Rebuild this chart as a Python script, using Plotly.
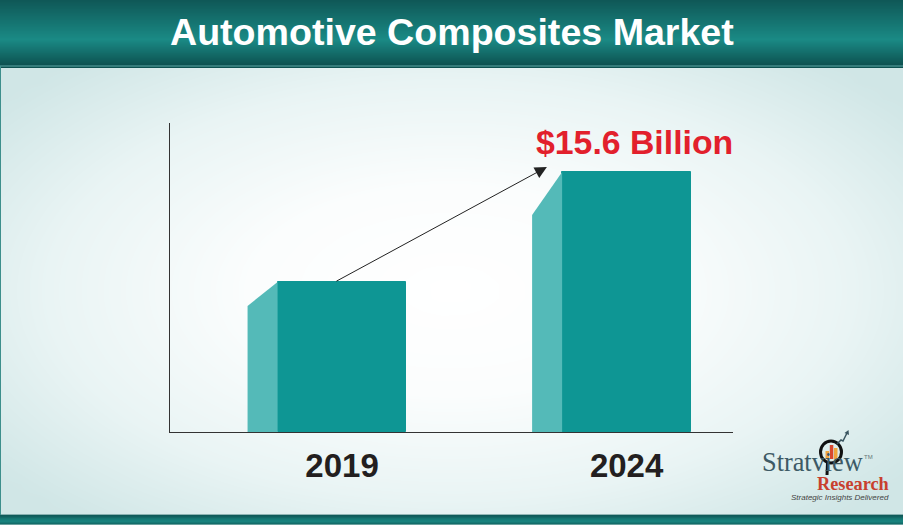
import numpy as np
from plotly import graph_objects as go

W, H = 903, 525

years = ['2019', '2024']
market_value = [9.0, 15.6]
side_drop = [1.44, 2.58]

TITLE = 'Automotive Composites Market'
VALUE_LABEL = '$15.6 Billion'

BAR_WIDTH = 0.453
SIDE_DEPTH = 0.1055
TEAL = '#0e9694'
TEAL_SIDE = '#54bab8'
SANS = 'Liberation Sans'
SERIF = 'Liberation Serif'

positions = list(range(len(years)))

fig = go.Figure()

# backdrop lives on x/y, which use page pixels
gx = np.linspace(0, W, 46)
gy = np.linspace(66, 515, 30)
xx, yy = np.meshgrid(gx, gy)
glow = np.clip(np.hypot((xx - 450) / 500, (yy - 290) / 260), 0, 1.15)
fig.add_trace(go.Heatmap(
    x=gx, y=gy, z=glow, zmin=0, zmax=1.15, zsmooth='best', showscale=False,
    hoverinfo='skip',
    colorscale=[[0, '#ffffff'], [0.35, '#fbfdfd'], [0.7, '#e9f4f4'], [1, '#d0e6e6']]))

band_scale = [[0, '#0f5857'], [0.6, '#1a8a85'], [1, '#0d5150']]
for top, bottom in [(0, 65), (515, 525)]:
    rows = np.linspace(top, bottom, 14)
    fig.add_trace(go.Heatmap(
        x=[0, W], y=rows, z=[[v, v] for v in np.linspace(0, 1, 14)],
        zmin=0, zmax=1, zsmooth='best', showscale=False, hoverinfo='skip',
        colorscale=band_scale))

# side faces of the bars
for pos, value, drop in zip(positions, market_value, side_drop):
    left = pos - BAR_WIDTH / 2
    fig.add_trace(go.Scatter(
        x=[left - SIDE_DEPTH, left, left, left - SIDE_DEPTH],
        y=[value - drop, value, 0, 0],
        xaxis='x2', yaxis='y2', mode='lines', line=dict(width=0),
        fill='toself', fillcolor=TEAL_SIDE, hoverinfo='skip'))

# the outline keeps the backdrop from showing through at the side face seam
fig.add_trace(go.Bar(
    x=positions, y=market_value, width=BAR_WIDTH, xaxis='x2', yaxis='y2',
    marker=dict(color=TEAL, line=dict(width=1, color=TEAL))))

annotations = [
    dict(x=451.5, y=32, xref='x', yref='y', text=f'<b>{TITLE}</b>', showarrow=False,
         font=dict(family=SANS, size=37.6, color='white')),
    dict(x=634.5, y=142, xref='x', yref='y', text=f'<b>{VALUE_LABEL}</b>', showarrow=False,
         font=dict(family=SANS, size=33.8, color='#e2202c')),
    # growth arrow, from the 2019 bar top towards the 2024 value
    dict(x=0.72, y=15.9, xref='x2', yref='y2', ax=-0.025, ay=market_value[0],
         axref='x2', ayref='y2', text='', showarrow=True, arrowhead=2,
         arrowsize=2.4, arrowwidth=1, arrowcolor='#222222'),
    # logo text
    dict(x=760, y=462, xref='x', yref='y', text='Stratview', showarrow=False, xanchor='left',
         font=dict(family=SERIF, size=26.3, color='#3d5a66')),
    dict(x=862, y=457, xref='x', yref='y', text='TM', showarrow=False, xanchor='left',
         font=dict(family=SANS, size=6, color='#667777')),
    dict(x=891, y=484, xref='x', yref='y', text='<b>Research</b>', showarrow=False, xanchor='right',
         font=dict(family=SERIF, size=18.3, color='#c8402e')),
    dict(x=891, y=497, xref='x', yref='y', text='<i>Strategic Insights Delivered</i>',
         showarrow=False, xanchor='right',
         font=dict(family=SANS, size=8, color='#444444')),
]

# thin frame of the panel and the magnifier in the logo
shapes = [
    dict(type='line', x0=0, x1=W, y0=66, y1=66, xref='x', yref='y',
         line=dict(color='#5fa9a6', width=1)),
    dict(type='line', x0=0.5, x1=0.5, y0=66, y1=515, xref='x', yref='y',
         line=dict(color='#3d8f8c', width=1)),
    dict(type='rect', x0=825.5, x1=829, y0=451, y1=459, xref='x', yref='y',
         fillcolor='#f0a63c', line=dict(width=0)),
    dict(type='rect', x0=829.8, x1=833.3, y0=445, y1=459, xref='x', yref='y',
         fillcolor='#d9482f', line=dict(width=0)),
    dict(type='rect', x0=834, x1=837.5, y0=448, y1=459, xref='x', yref='y',
         fillcolor='#f0a63c', line=dict(width=0)),
    dict(type='circle', x0=820.5, x1=841.5, y0=441, y1=463, xref='x', yref='y',
         line=dict(color='#111111', width=3)),
    dict(type='line', x0=827.5, x1=827, y0=463, y1=475, xref='x', yref='y',
         line=dict(color='#111111', width=3)),
    dict(type='path', path='M 837 444 L 841 440 L 843 441 L 847 433', xref='x', yref='y',
         line=dict(color='#3a5560', width=1.5)),
    dict(type='path', path='M 844.5 433 L 848.5 430 L 849 435 Z', xref='x', yref='y',
         fillcolor='#3a5560', line=dict(width=0)),
]

fig.update_layout(
    width=W, height=H,
    margin=dict(l=0, r=0, t=0, b=0),
    showlegend=False,
    plot_bgcolor='rgba(0,0,0,0)',
    paper_bgcolor='white',
    bargap=0,
    annotations=annotations,
    shapes=shapes,
    xaxis=dict(range=[0, W], domain=[0, 1], visible=False, fixedrange=True),
    yaxis=dict(range=[H, 0], domain=[0, 1], visible=False, fixedrange=True),
    xaxis2=dict(
        domain=[170 / W, 733 / W], range=[-0.6046, 1.374], anchor='y2',
        tickvals=positions, ticktext=years, ticks='', showgrid=False, zeroline=False,
        showline=True, linecolor='#333333', linewidth=1.2,
        tickfont=dict(family=SANS, size=33, color='#231f20', weight='bold'),
        ticklabelstandoff=4),
    yaxis2=dict(
        domain=[(H - 432) / H, (H - 123) / H], range=[0, 18.54], anchor='x2',
        showticklabels=False, ticks='', showgrid=False, zeroline=False,
        showline=True, linecolor='#333333', linewidth=1.2),
)

fig.write_html("out.html", config=dict(displayModeBar=False),
               post_script="document.body.style.margin='0'")
